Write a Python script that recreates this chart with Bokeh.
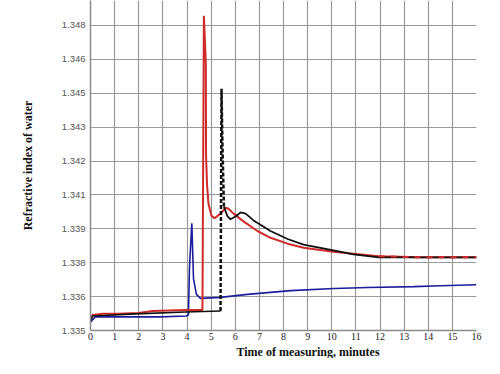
from bokeh.plotting import figure
from bokeh.models import Range1d, FixedTicker, CustomJSTickFormatter, Title
from bokeh.embed import file_html
from bokeh.resources import INLINE

# ---- data (time in minutes, refractive index) ----
blue_t = [0, 0.2, 1.2, 2.9, 3.98, 4.06, 4.1, 4.2, 4.27, 4.39, 4.56, 5.39, 6.5, 8.3, 10.1, 11.5, 13.4, 14.5, 16]
blue_n = [1.33537, 1.33558, 1.33558, 1.33558, 1.33562, 1.33567, 1.33762, 1.33957, 1.33720, 1.33654,
          1.33637, 1.33641, 1.33654, 1.33670, 1.33679, 1.33683, 1.33687, 1.33691, 1.33695]

red_t = [0, 0.08, 0.5, 1.16, 1.99, 2.57, 3.94, 4.64, 4.7, 4.78, 4.79, 4.83, 4.89, 5.01, 5.14, 5.39,
         5.6, 5.72, 5.93, 6.34, 6.92, 7.46, 8.17, 8.83, 10.07, 11.94, 13.68, 16]
red_n = [1.33541, 1.33566, 1.33571, 1.33571, 1.33575, 1.33583, 1.33587, 1.33587, 1.34841, 1.34642,
         1.34248, 1.34123, 1.34040, 1.33990, 1.33978, 1.33998, 1.34023, 1.34019, 1.33998, 1.33965,
         1.33924, 1.33895, 1.33870, 1.33853, 1.33836, 1.33816, 1.33812, 1.33812]

black_base_t = [0, 0.08, 1.87, 3.94, 5.39]
black_base_n = [1.33537, 1.33562, 1.33571, 1.33579, 1.33583]
black_spike_t = [5.39, 5.43, 5.47, 5.53]
black_spike_n = [1.33583, 1.34530, 1.34289, 1.34028]
black_tail_t = [5.53, 5.68, 5.8, 6.01, 6.22, 6.43, 6.76, 7.46, 8.17, 8.83, 10.07, 10.9, 11.94, 16]
black_tail_n = [1.34028, 1.33986, 1.33974, 1.33986, 1.34003, 1.33998, 1.33969, 1.33924, 1.33890,
                1.33866, 1.33841, 1.33824, 1.33812, 1.33812]

x_ticks = list(range(0, 17))
y_tick_labels = ["1.335", "1.336", "1.338", "1.339", "1.341", "1.342", "1.343", "1.345", "1.346", "1.348"]
y_min, y_max_label = 1.335, 1.348

step = (y_max_label - y_min) / 9
y_ticks = [y_min + k * step for k in range(10)]

FRAME_H = 331
px_per_unit = (FRAME_H - 25) / (y_max_label - y_min)
y_end = y_min + FRAME_H / px_per_unit

p = figure(width=484, height=358, output_backend="svg", toolbar_location=None,
           x_range=Range1d(0, 16), y_range=Range1d(y_min, y_end),
           min_border_left=90, min_border_right=8, min_border_top=0, min_border_bottom=0)
p.background_fill_color = "white"
p.border_fill_color = "white"
p.outline_line_color = None

# axes
p.xaxis.ticker = FixedTicker(ticks=x_ticks)
p.yaxis.ticker = FixedTicker(ticks=y_ticks)
p.yaxis.formatter = CustomJSTickFormatter(args=dict(labels=y_tick_labels, y0=y_min, st=step), code="""
    const i = Math.round((tick - y0) / st);
    return (i >= 0 && i < labels.length) ? labels[i] : "";
""")
for ax in (p.xaxis, p.yaxis):
    ax.major_tick_line_color = None
    ax.minor_tick_line_color = None
    ax.axis_line_color = "#8a8a8a"
    ax.axis_line_width = 1.5
    ax.major_tick_out = 0
    ax.major_tick_in = 0

p.xaxis.major_label_text_font = "Liberation Serif"
p.xaxis.major_label_text_font_size = "10px"
p.xaxis.major_label_text_color = "#222222"
p.xaxis.major_label_standoff = 2

p.yaxis.major_label_text_font = "Liberation Sans"
p.yaxis.major_label_text_font_size = "9.5px"
p.yaxis.major_label_text_color = "#555555"
p.yaxis.major_label_standoff = 5
p.yaxis.axis_label = "Refractive index of water"
p.yaxis.axis_label_text_font = "Liberation Serif"
p.yaxis.axis_label_text_font_style = "bold"
p.yaxis.axis_label_text_font_size = "12px"
p.yaxis.axis_label_text_color = "#111111"
p.yaxis.axis_label_standoff = 24

xt = Title(text="Time of measuring, minutes", align="left", offset=146,
           text_font="Liberation Serif", text_font_style="bold", text_font_size="12px",
           text_color="#111111")
if "standoff" in Title.properties():
    xt.standoff = 0
p.add_layout(xt, "below")

p.xgrid.grid_line_color = "#9a9a9a"
p.ygrid.grid_line_color = "#9a9a9a"
p.xgrid.grid_line_width = 1.2
p.ygrid.grid_line_width = 1.2

RED = "#d02a2a"
BLUE = "#1c1c9c"
BLACK = "#111111"

p.line(blue_t, blue_n, line_color=BLUE, line_width=1.6)
p.line(red_t, red_n, line_color=RED, line_width=2)
p.line(black_base_t, black_base_n, line_color=BLACK, line_width=1.6)
p.line(black_spike_t, black_spike_n, line_color=BLACK, line_width=2.5, line_dash="4 2")
p.line(black_tail_t, black_tail_n, line_color=BLACK, line_width=1.8)
tail_t = [t for t in red_t if t >= 11.9]
tail_n = red_n[len(red_t) - len(tail_t):]
p.line(tail_t, tail_n, line_color=RED, line_width=2, line_dash="6 6")

open("out.html", "w").write(file_html(p, INLINE))
